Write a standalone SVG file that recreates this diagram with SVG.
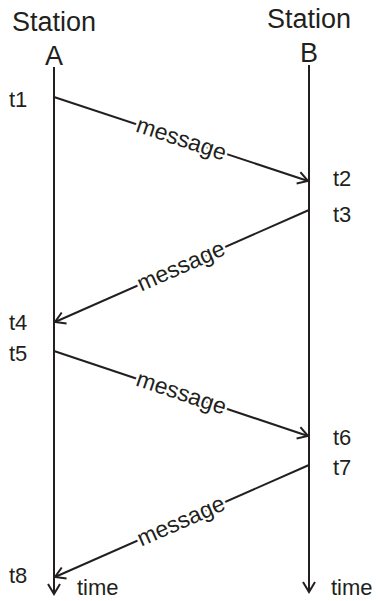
<svg xmlns="http://www.w3.org/2000/svg" width="378" height="601" viewBox="0 0 378 601">
<defs>
<marker id="arr" viewBox="0 0 14 14" refX="12" refY="7" markerWidth="14" markerHeight="14" markerUnits="userSpaceOnUse" orient="auto">
<polyline points="2,1 12,7 2,13" fill="none" stroke="#231f20" stroke-width="2"/>
</marker>
<style>
text{font-family:"Liberation Sans",Arial,sans-serif;fill:#231f20}
.st{font-size:27px}
.t{font-size:22px}
.m{font-size:23px;stroke:#fff;stroke-width:5px;paint-order:stroke;stroke-linejoin:round}
.ln{stroke:#231f20;stroke-width:2;fill:none}
</style>
</defs>
<rect width="378" height="601" fill="#fff"/>
<g id="stationA">
<text class="st" x="54" y="31" text-anchor="middle">Station</text>
<text class="st" x="54" y="65" text-anchor="middle">A</text>
<line class="ln" x1="54" y1="67" x2="54" y2="594" marker-end="url(#arr)"/>
<text class="t" x="77" y="595">time</text>
</g>
<g id="stationB">
<text class="st" x="309" y="28" text-anchor="middle">Station</text>
<text class="st" x="309" y="62" text-anchor="middle">B</text>
<line class="ln" x1="309" y1="65" x2="309" y2="592" marker-end="url(#arr)"/>
<text class="t" x="331" y="595">time</text>
</g>
<g id="times">
<text class="t" x="9" y="107">t1</text>
<text class="t" x="333" y="186">t2</text>
<text class="t" x="333" y="222">t3</text>
<text class="t" x="9" y="330">t4</text>
<text class="t" x="9" y="361">t5</text>
<text class="t" x="333" y="445">t6</text>
<text class="t" x="333" y="475">t7</text>
<text class="t" x="9" y="583">t8</text>
</g>
<g id="connectors">
<line class="ln" x1="54" y1="97" x2="308" y2="181" marker-end="url(#arr)"/>
<line class="ln" x1="309" y1="210" x2="55" y2="322" marker-end="url(#arr)"/>
<line class="ln" x1="54" y1="351" x2="308" y2="436" marker-end="url(#arr)"/>
<line class="ln" x1="309" y1="465" x2="55" y2="577" marker-end="url(#arr)"/>
<text class="m" transform="translate(179,146) rotate(18.3)" text-anchor="middle">message</text>
<text class="m" transform="translate(184,273) rotate(-23.8)" text-anchor="middle">message</text>
<text class="m" transform="translate(179,400) rotate(18.5)" text-anchor="middle">message</text>
<text class="m" transform="translate(184,528) rotate(-23.8)" text-anchor="middle">message</text>
</g>
</svg>
